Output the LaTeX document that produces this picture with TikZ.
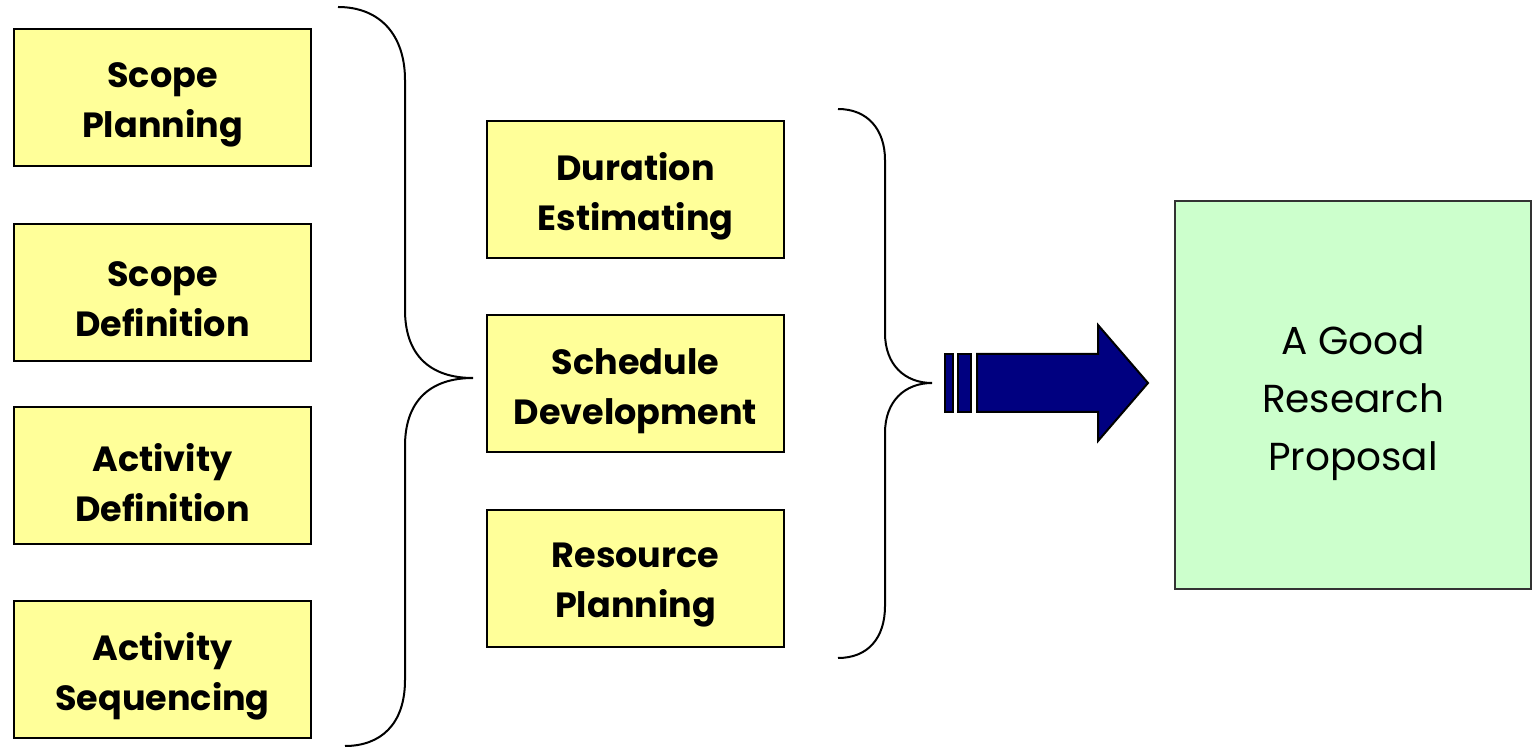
\documentclass[tikz,border=0pt]{standalone}
\usepackage{fontspec}
\setmainfont{Poppins}
\definecolor{boxyellow}{HTML}{FFFF99}
\definecolor{boxgreen}{HTML}{CCFFCC}
\definecolor{arrownavy}{HTML}{000080}
\tikzset{
  taskbox/.style={draw=black, line width=1pt, fill=boxyellow, minimum width=148.5pt, minimum height=68.5pt, inner sep=0pt},
  tasktext/.style={align=center, inner sep=0pt, yshift=-3.5pt, font=\fontsize{17.5}{25}\selectfont\bfseries},
  goalbox/.style={draw=black!80, line width=1pt, fill=boxgreen, minimum width=178pt, minimum height=194pt, inner sep=0pt},
  goaltext/.style={align=center, inner sep=0pt, yshift=-4pt, font=\fontsize{19.5}{29}\selectfont},
  bracepath/.style={draw=black, line width=1pt},
  arrowpart/.style={fill=arrownavy, draw=black, line width=1pt}
}
\begin{document}
\begin{tikzpicture}[x=0.5pt, y=-0.5pt]
\useasboundingbox (0,0) rectangle (1532,748);
% left column
\node[taskbox] (sp) at (162.5,97.5) {};
\node[tasktext] (sp-t) at (sp.center) {Scope\\Planning};
\node[taskbox] (sd) at (162.5,292.5) {};
\node[tasktext] (sd-t) at (sd.center) {Scope\\Definition};
\node[taskbox] (ad) at (162.5,475.5) {};
\node[tasktext] (ad-t) at (ad.center) {Activity\\Definition};
\node[taskbox] (as) at (162.5,669.5) {};
\node[tasktext] (as-t) at (as.center) {Activity\\Sequencing};
% middle column
\node[taskbox] (de) at (635.5,189.5) {};
\node[tasktext] (de-t) at (de.center) {Duration\\Estimating};
\node[taskbox] (sdv) at (635.5,384) {};
\node[tasktext] (sdv-t) at (sdv.center) {Schedule\\Development};
\node[taskbox] (rp) at (635.5,578.5) {};
\node[tasktext] (rp-t) at (rp.center) {Resource\\Planning};
% goal
\node[goalbox] (goal) at (1353,395) {};
\node[goaltext] (goal-t) at (goal.center) {A Good\\Research\\Proposal};
% left brace
\coordinate (lbtop) at (338,7);
\coordinate (lbtip) at (473,378);
\coordinate (lbbot) at (345,746);
\draw[bracepath] (lbtop) .. controls (380,7) and (405,35) .. (405,80)
  -- (405,310) .. controls (405,355) and (430,378) .. (lbtip)
  .. controls (430,378) and (405,401) .. (405,446)
  -- (405,680) .. controls (405,725) and (380,746) .. (lbbot);
% right brace
\coordinate (rbtop) at (838,109);
\coordinate (rbtip) at (932,383);
\coordinate (rbbot) at (838,658);
\draw[bracepath] (rbtop) .. controls (868,109) and (885,130) .. (885,160)
  -- (885,333) .. controls (885,365) and (905,383) .. (rbtip)
  .. controls (905,383) and (885,401) .. (885,433)
  -- (885,606) .. controls (885,638) and (868,658) .. (rbbot);
% arrow
\draw[arrowpart] (945,354) rectangle (953,412);
\draw[arrowpart] (958,354) rectangle (971,412);
\draw[arrowpart] (977,354) -- (1098,354) -- (1098,325) -- (1148,383) -- (1098,441) -- (1098,412) -- (977,412) -- cycle;
\end{tikzpicture}
\end{document}
